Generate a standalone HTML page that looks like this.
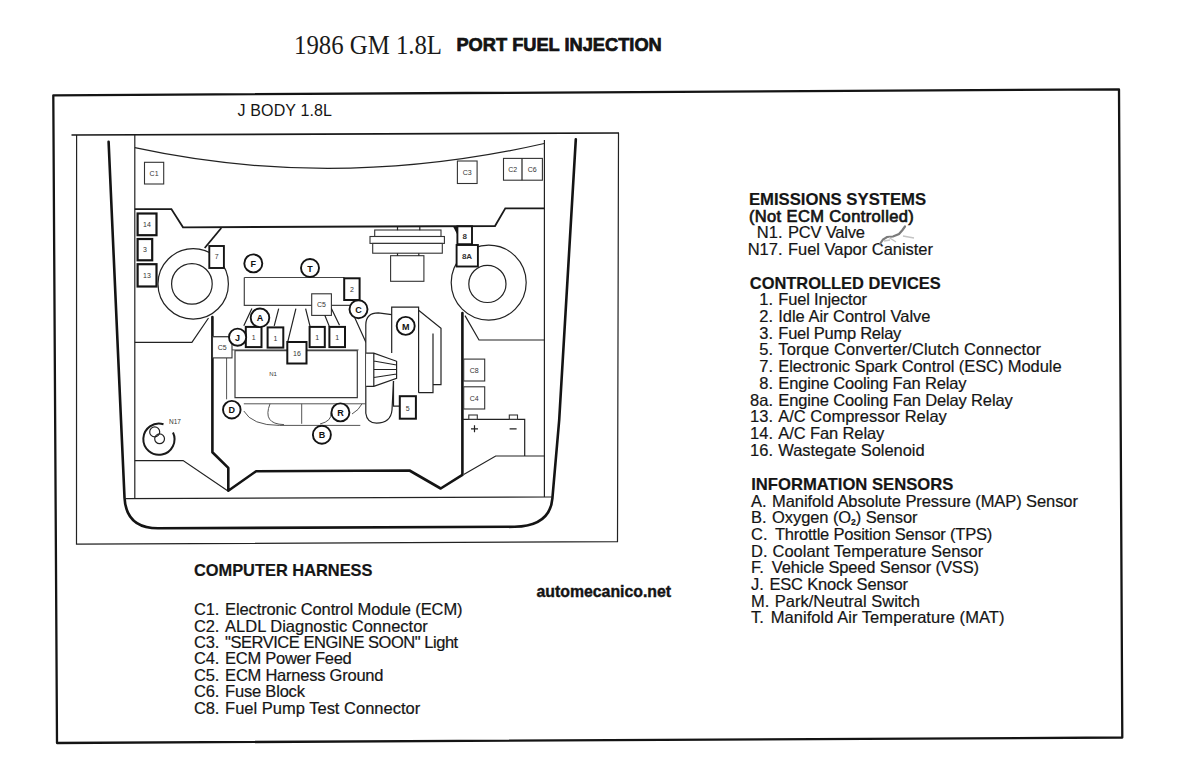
<!DOCTYPE html>
<html><head><meta charset="utf-8">
<style>
html,body{margin:0;padding:0;background:#fff;width:1184px;height:781px;overflow:hidden;}
svg{display:block;}
.t{font-family:"Liberation Sans",sans-serif;fill:#151515;}
.b{font-weight:bold;}
.tx text.b{font-size:17px;}
.tx text{stroke:#151515;stroke-width:0.2;}
.tx text.b{stroke-width:0.2;}
.th{fill:none;stroke:#141414;stroke-width:2.6;stroke-linejoin:round;stroke-linecap:round;}
.md{fill:none;stroke:#1a1a1a;stroke-width:1.8;}
.tn{fill:none;stroke:#222;stroke-width:1.2;}
.lt{fill:none;stroke:#555;stroke-width:1;}
.bx{fill:#fff;stroke:#141414;stroke-width:2.2;}
.bl{fill:#fff;stroke:#333;stroke-width:1.1;}
.ci{fill:#fff;stroke:#141414;stroke-width:1.9;}
.cl{font-family:"Liberation Sans",sans-serif;font-weight:bold;font-size:9px;fill:#111;text-anchor:middle;}
.sl{font-family:"Liberation Sans",sans-serif;font-size:7px;fill:#333;text-anchor:middle;}
</style></head><body>
<svg width="1184" height="781" viewBox="0 0 1184 781">
<!-- title -->
<text x="294" y="53.8" font-family="Liberation Serif" font-size="26.5" fill="#1a1a1a" textLength="148" lengthAdjust="spacingAndGlyphs">1986 GM 1.8L</text>
<text class="t b" x="456.4" y="51.3" font-size="19" fill="#0d0d0d" stroke="#0d0d0d" stroke-width="0.7" textLength="205.4" lengthAdjust="spacingAndGlyphs">PORT FUEL INJECTION</text>

<!-- outer frame -->
<path class="th" style="stroke-width:2.3" d="M53.3 95.3 L1119 89.4 L1122.3 737.5 L57 743 Z"/>

<!-- J BODY -->
<text class="t" x="237.6" y="116.4" font-size="16" textLength="94.4" lengthAdjust="spacing">J BODY 1.8L</text>

<!-- diagram inner frame -->
<path class="tn" d="M618.5 133 L617.5 541.6 L76.5 544.2 L76.6 135"/>
<path class="md" style="stroke-width:1.7" d="M71.5 135 L619 133"/>

<g id="diagram">
<!-- fender thick outline -->
<path class="th" d="M108.6 141.8 L121 420 L124.5 497.5 Q126 528.3 158 528.3 L514.6 526.8 Q550 526 552.4 498.4 L559.2 420 L575.8 139.4"/>
<!-- lower thin horizontal -->
<path class="tn" d="M124.5 498.6 L552.4 497"/>
<!-- vertical thin lines -->
<path class="tn" d="M134.8 135 L134.8 498.5"/>
<path class="tn" d="M544.4 140 L544.4 497"/>
<!-- cowl curve -->
<path class="tn" d="M134.8 147.7 Q335 191 544.2 143.5"/>
<!-- upper step line -->
<path class="md" d="M134.8 209.1 L171.4 209.1 L183 227.3 L495 226 L505.3 208.3 L544.4 208.3"/>
<!-- C1 C3 C2 C6 -->
<rect class="bl" x="144.5" y="162.3" width="19.2" height="21.7"/>
<text class="sl" x="154.1" y="176">C1</text>
<rect class="bl" x="457.4" y="161" width="19.7" height="22.5"/>
<text class="sl" x="467.2" y="175">C3</text>
<rect class="bl" x="503.5" y="158.4" width="38.9" height="21.8"/>
<path class="tn" d="M522 158.4 V180.2"/>
<text class="sl" x="512.8" y="172">C2</text>
<text class="sl" x="532.2" y="172">C6</text>

<!-- relays left -->
<rect class="bx" x="137.6" y="213.5" width="18.9" height="21.7"/>
<text class="sl" x="147" y="227">14</text>
<rect class="bx" x="137.6" y="239" width="14.6" height="21.3"/>
<text class="sl" x="145" y="252">3</text>
<rect class="bx" x="137.6" y="264.2" width="18.9" height="22.3"/>
<text class="sl" x="147" y="278">13</text>

<!-- left big circle -->
<circle class="tn" cx="193.2" cy="283.9" r="35.2"/>
<circle class="tn" cx="191.9" cy="283.9" r="20.3"/>
<!-- diagonal to box 7 -->
<path class="md" d="M221.3 228 L204.7 248"/>
<rect class="bx" x="209.3" y="246" width="14.6" height="22" style="stroke-width:1.9"/>
<text class="sl" x="216.6" y="259">7</text>

<!-- right big circle -->
<circle class="tn" cx="488.7" cy="282.6" r="37.5"/>
<circle class="tn" cx="487.4" cy="283.9" r="18.6"/>
<path d="M452.8 226 L458 226 L458 236 Z" fill="#141414"/>
<rect class="bx" x="457.4" y="226.3" width="14.6" height="17.9" style="stroke-width:1.9"/>
<text class="sl" x="464.7" y="238.5" style="font-weight:bold;font-size:8px">8</text>
<rect class="bx" x="456.6" y="245" width="21.3" height="21.5" style="stroke-width:1.9"/>
<text class="sl" x="467" y="259" style="font-weight:bold;font-size:8px">8A</text>

<!-- lower left step -->
<path class="tn" d="M134.8 342.3 L191.9 342.3 L208.5 318"/>
<path class="tn" d="M134.8 460.6 L183.1 460.6 L227.6 490.7"/>

<!-- engine bay thick wall -->
<path class="th" d="M212.4 317 L212.4 452.2 L228.3 467.9 L228.3 490.7 L256.1 471.2 L409.5 470.5 L440.7 488.5 L462.4 474.9 L462.4 313"/>

<!-- right side details -->
<path class="tn" d="M465 315.6 L479 340 L544.4 340"/>
<path class="tn" d="M463.7 474.4 L495.7 456 L544.4 456"/>
<!-- battery -->
<path class="tn" d="M462.4 419.3 L524.7 419.3 L524.7 456"/>
<rect class="bl" x="468.8" y="415" width="8.5" height="4.3"/>
<rect class="bl" x="509.3" y="415" width="8.2" height="4.3"/>
<path class="tn" d="M471 428.8 H478 M474.5 425.3 V432.3 M509.6 428.8 H516.6"/>
<rect class="bl" x="463.7" y="359.1" width="21" height="21.9"/>
<text class="sl" x="474.2" y="373">C8</text>
<rect class="bl" x="463.7" y="386.8" width="21" height="22.2"/>
<text class="sl" x="474.2" y="400.5">C4</text>

<!-- N17 canister -->
<path class="md" d="M173 432.5 A15.6 15.6 0 1 1 163.5 424.3" style="stroke-width:2"/>
<circle class="tn" cx="154.7" cy="431.9" r="5"/>
<circle class="tn" cx="159.6" cy="438.8" r="4.9"/>
<text class="sl" x="175" y="423.8" style="font-size:6.5px">N17</text>

<!-- air cleaner -->
<rect class="bl" x="374.7" y="230" width="66.3" height="6.5"/>
<rect class="bl" x="370" y="236.5" width="74.4" height="6.9"/>
<rect class="bl" x="372.7" y="243.4" width="69.6" height="9.8"/>
<rect class="bl" x="390.6" y="255.7" width="33.3" height="25.6"/>
<path class="tn" d="M397.5 253.2 V255.7 M418.8 253.2 V255.7 M397.5 227 V230.2 M419.8 227 V230.2"/>

<!-- plenum -->
<path class="tn" style="stroke:#444" d="M244.3 277.5 L344.5 277.5 M244.3 277.5 L244.3 305.3 L312 305.3 M331.4 305.3 L352 305.3"/>
<rect class="bx" x="344.2" y="278.3" width="15.4" height="21.7" style="stroke-width:2"/>
<text class="sl" x="351.9" y="292">2</text>
<rect class="bl" x="311.7" y="293.8" width="19.7" height="21.6"/>
<text class="sl" x="321.5" y="307">C5</text>

<!-- runner lines -->
<path class="tn" d="M251.9 308.6 L243.8 325.8 M278.7 308.6 L274.2 325.8 M295.9 308.6 L287.8 341.6 M305.6 308.6 L310.1 326.6 M324.8 315.2 L329.4 326.6 M331.4 308.6 L339.5 325.3 M353.2 314.3 L366 342.5"/>

<!-- ECM / N1 -->
<path class="lt" style="stroke:#3a3a3a;stroke-width:1.2" d="M235 350.6 L357.3 350.6 L357.3 397.6 L235 397.6 Z"/>
<path class="lt" d="M226.6 357.9 L226.6 399.3 M243.8 403.8 L365.4 403.8 M232 349.9 L287.7 349.9 M307 349.9 L358.6 349.9"/>
<text class="sl" x="273" y="376" style="font-size:6px">N1</text>
<path class="tn" d="M212.5 336.8 L232 336.8"/>
<rect class="bl" x="212.5" y="336.8" width="19.5" height="21.1"/>
<text class="sl" x="222.3" y="350">C5</text>

<!-- injectors -->
<rect class="bx" x="245.8" y="326.9" width="15.7" height="20.2" style="stroke-width:2"/>
<rect class="bx" x="267.6" y="327.4" width="15.7" height="20.2" style="stroke-width:2"/>
<rect class="bx" x="309.6" y="326.9" width="15.2" height="20.2" style="stroke-width:2"/>
<rect class="bx" x="329.4" y="326.9" width="15.6" height="20.2" style="stroke-width:2"/>
<text class="sl" x="253.6" y="340">1</text>
<text class="sl" x="275.4" y="340.5">1</text>
<text class="sl" x="317.2" y="340">1</text>
<text class="sl" x="337.2" y="340">1</text>
<rect class="bx" x="287.3" y="342" width="19.2" height="21.5" style="stroke-width:2"/>
<text class="sl" x="296.9" y="356">16</text>

<!-- exhaust manifold curves -->
<path class="lt" d="M243.8 411 Q252 425.4 279.3 425.4 L360.3 425.4 M270 403.8 Q262 424 284 424.6 M301.7 403.8 V423.8 M320 424 Q332 421 331 413 M352 414 Q359 410 362 403.8"/>

<!-- transmission -->
<path class="tn" d="M391.7 314.7 L378.3 312.9 Q365.8 312.9 365.8 325 L365.8 413.3 Q367 423.1 376.5 423.1 Q390.8 423 392 410 L393.5 381" style="fill:#fff"/>
<path class="tn" d="M366.1 353.2 L373.8 353.2 L396.6 361.3 L396.6 378.3 L373.8 386.4 L366.1 386.4 M373.8 353.2 V386.4 M373.8 361 L396.6 365 M373.8 369.5 L396.6 369.5 M373.8 377.5 L396.6 374 M373.8 353.2 L396.6 361.3" style="fill:#fff"/>
<!-- M unit -->
<path class="tn" d="M391.7 353 L391.7 307.2 L418.6 307.2 L418.6 392.7"/>
<path class="tn" d="M418.6 310.2 L441 328.2 L441 384.6 L433 384.6 L433 392.7 L418.6 392.7 M433 333.5 V384.6 M393.5 381 V406.1 H399.8"/>
<rect class="bx" x="399.8" y="396.2" width="16.1" height="22.5" style="stroke-width:2"/>
<text class="sl" x="407.8" y="410.5">5</text>

<!-- circles -->
<g>
<circle class="ci" cx="253.3" cy="263.4" r="9"/><text class="cl" x="253.3" y="267">F</text>
<circle class="ci" cx="310" cy="268" r="9"/><text class="cl" x="310" y="271.6">T</text>
<circle class="ci" cx="358.5" cy="309.2" r="9"/><text class="cl" x="358.5" y="312.8">C</text>
<circle class="ci" cx="260" cy="317.8" r="9.3"/><text class="cl" x="260" y="321.4">A</text>
<circle class="ci" cx="237.6" cy="337.2" r="8.6"/><text class="cl" x="237.6" y="340.8">J</text>
<circle class="ci" cx="231.8" cy="409.7" r="8.8"/><text class="cl" x="231.8" y="413.3">D</text>
<circle class="ci" cx="340.4" cy="412.4" r="9"/><text class="cl" x="340.4" y="416">R</text>
<circle class="ci" cx="321.9" cy="434.7" r="9"/><text class="cl" x="321.9" y="438.3">B</text>
<circle class="ci" cx="405.7" cy="325.9" r="9"/><text class="cl" x="405.7" y="329.5">M</text>
</g>
</g>

<!-- right text -->
<g class="t tx" font-size="16.5">
<text class="b" x="748.9" y="205.2" textLength="177.3" lengthAdjust="spacingAndGlyphs">EMISSIONS SYSTEMS</text>
<text x="748.9" y="221.7" textLength="164.9" lengthAdjust="spacing" style="stroke-width:0.7">(Not ECM Controlled)</text>
<text x="782.5" y="238.2" text-anchor="end">N1.</text><text x="788" y="238.2" textLength="77" lengthAdjust="spacing">PCV Valve</text>
<text x="782.5" y="254.7" text-anchor="end">N17.</text><text x="788" y="254.7" textLength="145" lengthAdjust="spacing">Fuel Vapor Canister</text>

<text class="b" x="749.8" y="288.7" textLength="190.9" lengthAdjust="spacingAndGlyphs">CONTROLLED DEVICES</text>
<text x="773" y="305.0" text-anchor="end">1.</text><text x="778.3" y="305.0" textLength="88.6" lengthAdjust="spacing">Fuel Injector</text>
<text x="773" y="321.8" text-anchor="end">2.</text><text x="778.3" y="321.8" textLength="152.1" lengthAdjust="spacing">Idle Air Control Valve</text>
<text x="773" y="338.5" text-anchor="end">3.</text><text x="778.3" y="338.5" textLength="123.0" lengthAdjust="spacing">Fuel Pump Relay</text>
<text x="773" y="355.3" text-anchor="end">5.</text><text x="778.3" y="355.3" textLength="262.7" lengthAdjust="spacing">Torque Converter/Clutch Connector</text>
<text x="773" y="372.0" text-anchor="end">7.</text><text x="778.3" y="372.0" textLength="283.3" lengthAdjust="spacing">Electronic Spark Control (ESC) Module</text>
<text x="773" y="388.8" text-anchor="end">8.</text><text x="778.3" y="388.8" textLength="188.3" lengthAdjust="spacing">Engine Cooling Fan Relay</text>
<text x="773" y="405.6" text-anchor="end">8a.</text><text x="778.3" y="405.6" textLength="234.4" lengthAdjust="spacing">Engine Cooling Fan Delay Relay</text>
<text x="773" y="422.3" text-anchor="end">13.</text><text x="778.3" y="422.3" textLength="168.5" lengthAdjust="spacing">A/C Compressor Relay</text>
<text x="773" y="439.1" text-anchor="end">14.</text><text x="778.3" y="439.1" textLength="106.0" lengthAdjust="spacing">A/C Fan Relay</text>
<text x="773" y="455.8" text-anchor="end">16.</text><text x="778.3" y="455.8" textLength="146.3" lengthAdjust="spacing">Wastegate Solenoid</text>

<text class="b" x="751.2" y="489.8" textLength="202.2" lengthAdjust="spacingAndGlyphs">INFORMATION SENSORS</text>
<text x="751" y="506.7">A.</text><text x="772.1" y="506.7" textLength="305.8" lengthAdjust="spacing">Manifold Absolute Pressure (MAP) Sensor</text>
<text x="751" y="523.4">B.</text><text x="772.1" y="523.4" textLength="145.4" lengthAdjust="spacing">Oxygen (O<tspan font-size="8.5" dy="2" font-weight="bold">2</tspan><tspan dy="-2">) Sensor</tspan></text>
<text x="751" y="540.0">C.</text><text x="774.9" y="540.0" textLength="217.3" lengthAdjust="spacing">Throttle Position Sensor (TPS)</text>
<text x="751" y="556.6">D.</text><text x="772.5" y="556.6" textLength="210.8" lengthAdjust="spacing">Coolant Temperature Sensor</text>
<text x="751" y="573.3">F.</text><text x="771.8" y="573.3" textLength="207.2" lengthAdjust="spacing">Vehicle Speed Sensor (VSS)</text>
<text x="751" y="590.0">J.</text><text x="769.4" y="590.0" textLength="138.6" lengthAdjust="spacing">ESC Knock Sensor</text>
<text x="751" y="606.6">M.</text><text x="774.8" y="606.6" textLength="145.1" lengthAdjust="spacing">Park/Neutral Switch</text>
<text x="751" y="623.3">T.</text><text x="770.7" y="623.3" textLength="233.7" lengthAdjust="spacing">Manifold Air Temperature (MAT)</text>
</g>

<defs><filter id="bl" x="-20%" y="-50%" width="140%" height="200%"><feGaussianBlur stdDeviation="0.6"/></filter></defs>
<g filter="url(#bl)"><path d="M880 244 L883 239.5 L887 237 L893 236.5 L899 234 L902.5 230 L905 226.5" fill="none" stroke="#7a7a7a" stroke-width="2.2" stroke-linecap="round"/>
<path d="M889 237.5 L896 242 M903 236 L914 238 M884 241 L890 240" fill="none" stroke="#c4c4c4" stroke-width="1.4"/></g>
<!-- computer harness -->
<g class="t tx" font-size="16.5">
<text class="b" x="193.9" y="576.2" textLength="178.6" lengthAdjust="spacingAndGlyphs">COMPUTER HARNESS</text>
<text x="193.9" y="615.0" textLength="25.5" lengthAdjust="spacing">C1.</text><text x="225.1" y="615.0" textLength="237.4" lengthAdjust="spacing">Electronic Control Module (ECM)</text>
<text x="193.9" y="631.5" textLength="25.5" lengthAdjust="spacing">C2.</text><text x="225.1" y="631.5" textLength="202.7" lengthAdjust="spacing">ALDL Diagnostic Connector</text>
<text x="193.9" y="647.9" textLength="25.5" lengthAdjust="spacing">C3.</text><text x="225.1" y="647.9" textLength="233.1" lengthAdjust="spacing">"SERVICE ENGINE SOON" Light</text>
<text x="193.9" y="664.4" textLength="25.5" lengthAdjust="spacing">C4.</text><text x="225.1" y="664.4" textLength="126.7" lengthAdjust="spacing">ECM Power Feed</text>
<text x="193.9" y="680.9" textLength="25.5" lengthAdjust="spacing">C5.</text><text x="225.1" y="680.9" textLength="158.4" lengthAdjust="spacing">ECM Harness Ground</text>
<text x="193.9" y="697.3" textLength="25.5" lengthAdjust="spacing">C6.</text><text x="225.1" y="697.3" textLength="79.8" lengthAdjust="spacing">Fuse Block</text>
<text x="193.9" y="713.8" textLength="25.5" lengthAdjust="spacing">C8.</text><text x="225.1" y="713.8" textLength="195.1" lengthAdjust="spacing">Fuel Pump Test Connector</text>
</g>

<text class="t b" x="536.5" y="597" font-size="16" fill="#111" stroke="#111" stroke-width="0.4" textLength="134.6" lengthAdjust="spacingAndGlyphs">automecanico.net</text>
</svg>
</body></html>
